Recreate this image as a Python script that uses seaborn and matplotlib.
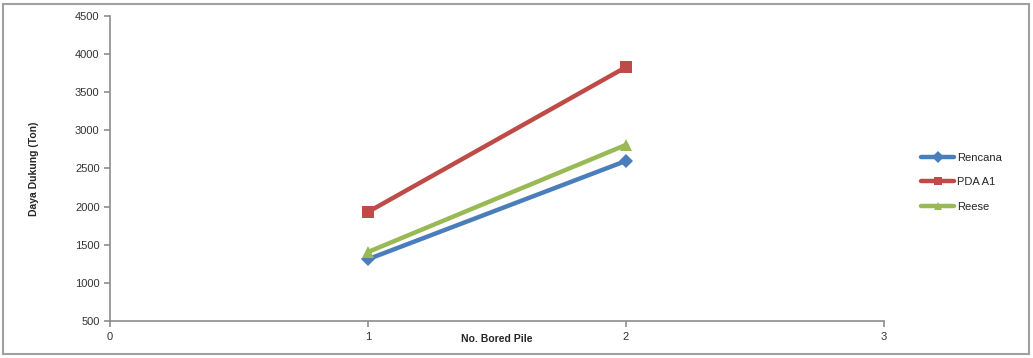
import matplotlib
matplotlib.use("Agg")
import matplotlib.pyplot as plt
import seaborn as sns
import pandas as pd

piles = [1, 2]
rencana = [1310, 2600]
pda_a1 = [1930, 3830]
reese = [1405, 2810]
series_names = ["Rencana", "PDA A1", "Reese"]
y_ticks = [500, 1000, 1500, 2000, 2500, 3000, 3500, 4000, 4500]
x_ticks = [0, 1, 2, 3]

df = pd.DataFrame({
    "pile": piles * 3,
    "value": rencana + pda_a1 + reese,
    "series": [series_names[0]] * 2 + [series_names[1]] * 2 + [series_names[2]] * 2,
})

sns.set_theme(style="white")
plt.rcParams["font.family"] = ["Liberation Sans", "DejaVu Sans"]

fig = plt.figure(figsize=(10.33, 3.58), dpi=100)
ax = fig.add_axes([0.1065, 0.1034, 0.7493, 0.8519])

palette = {"Rencana": "#4A7EBB", "PDA A1": "#BE4B48", "Reese": "#98B954"}
markers = {"Rencana": "D", "PDA A1": "s", "Reese": "^"}
sizes = {"Rencana": 7, "PDA A1": 9, "Reese": 9}

for name in series_names:
    sub = df[df["series"] == name]
    sns.lineplot(data=sub, x="pile", y="value", ax=ax, color=palette[name],
                 marker=markers[name], markersize=sizes[name], linewidth=3.2,
                 markeredgewidth=0, label=name)

ax.set_xlim(0, 3)
ax.set_ylim(500, 4500)
ax.set_xticks(x_ticks)
ax.set_yticks(y_ticks)
ax.tick_params(axis="both", labelsize=8, colors="#8c8c8c", labelcolor="#333333",
               direction="out", length=4, width=1.2, bottom=True, left=True)
ax.tick_params(axis="x", pad=4)
for side in ["top", "right"]:
    ax.spines[side].set_visible(False)
for side in ["left", "bottom"]:
    ax.spines[side].set_color("#8c8c8c")
    ax.spines[side].set_linewidth(1.2)

ax.set_xlabel("No. Bored Pile", fontsize=7.5, fontweight="bold", labelpad=-6)
ax.set_ylabel("Daya Dukung (Ton)", fontsize=7.5, fontweight="bold", labelpad=26)

leg = ax.legend(loc="center left", bbox_to_anchor=(1.035, 0.455), frameon=False,
                fontsize=8, handlelength=3.0, labelspacing=1.3, handletextpad=0.2)
for h in leg.legend_handles:
    h.set_markersize(6)

# thin outer frame around the whole chart
fig.patches.append(plt.Rectangle((0.003, 0.01), 0.993, 0.98, transform=fig.transFigure,
                                 fill=False, edgecolor="#a0a0a0", linewidth=1.5))

fig.savefig("out.png", dpi=100)
